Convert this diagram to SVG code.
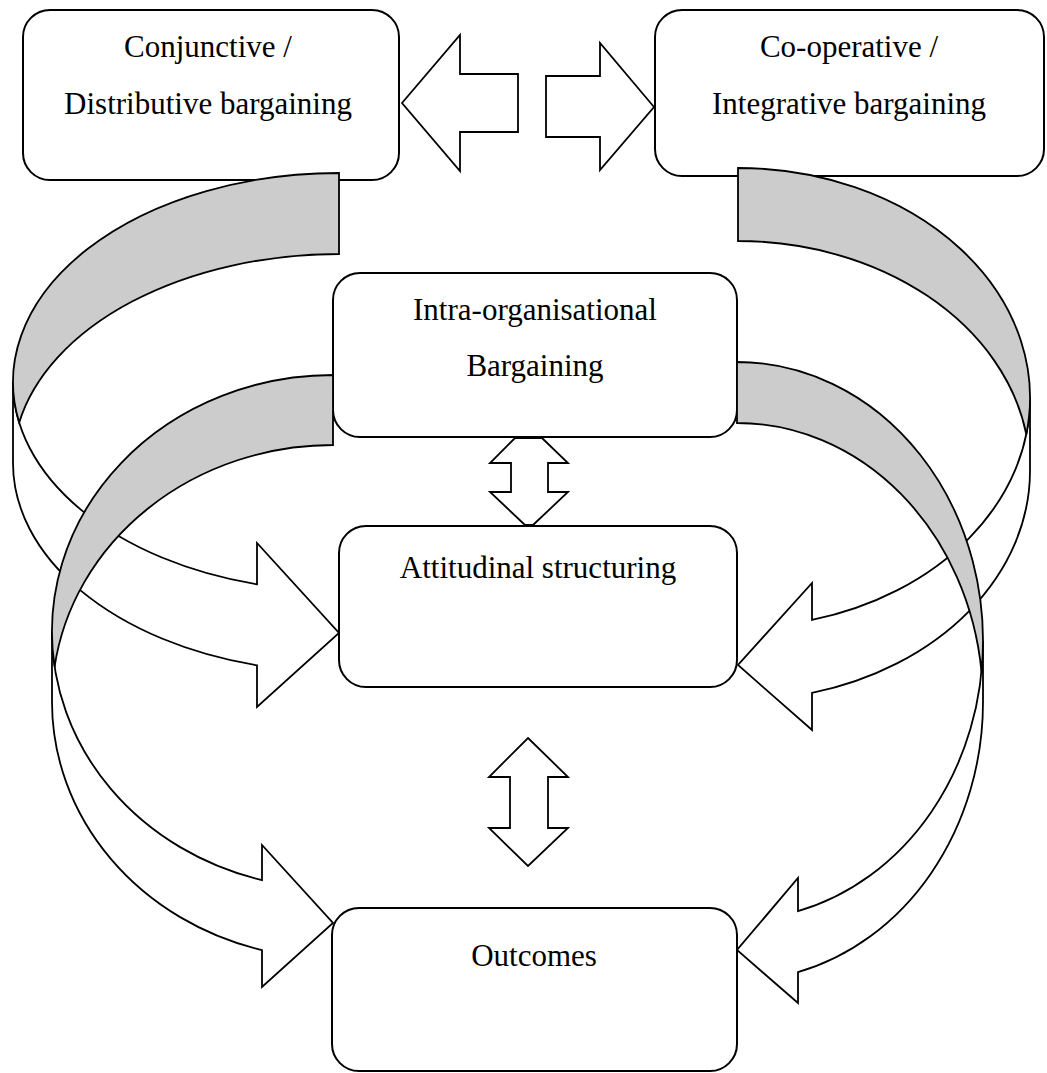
<svg xmlns="http://www.w3.org/2000/svg" width="1047" height="1073" viewBox="0 0 1047 1073">
<style>
.box{fill:#fff;stroke:#000;stroke-width:2}
.arr{fill:#fff;stroke:#000;stroke-width:1.8;stroke-linejoin:miter}
.back{fill:#cccccc;stroke:#000;stroke-width:1.8}
.t{font-family:"Liberation Serif","Times New Roman",serif;font-size:31px;fill:#000;text-anchor:middle}
</style>
<rect width="1047" height="1073" fill="#fff"/>
<g id="connectors">
  <polygon class="arr" points="402,103 460,35 460,74 518,74 518,132 460,132 460,171"/>
  <polygon class="arr" points="654,107 600,43 600,76 546,76 546,137 600,137 600,170"/>
  <polygon class="arr" points="515,438 542,438 568,463 548,463 548,492 568,492 533,525 525,525 490,492 511,492 511,463 490,463"/>
  <polygon class="arr" points="528,738 568,777 548,777 548,828 568,828 528,866 489,828 510,828 510,777 489,777"/>
</g>
<g id="node-conjunctive">
  <rect class="box" x="23" y="10" width="376" height="170" rx="27" ry="27"/>
  <text class="t" x="208" y="57">Conjunctive /</text>
  <text class="t" x="208" y="114">Distributive bargaining</text>
</g>
<g id="node-cooperative">
  <rect class="box" x="655" y="10" width="389" height="166" rx="27" ry="27"/>
  <text class="t" x="849" y="57">Co-operative /</text>
  <text class="t" x="849" y="114">Integrative bargaining</text>
</g>
<g id="node-intra">
  <rect class="box" x="333" y="273" width="404" height="164" rx="27" ry="27"/>
  <text class="t" x="535" y="320">Intra-organisational</text>
  <text class="t" x="535" y="376">Bargaining</text>
</g>
<g id="node-attitudinal">
  <rect class="box" x="339" y="526" width="398" height="161" rx="27" ry="27"/>
  <text class="t" x="538" y="578">Attitudinal structuring</text>
</g>
<g id="node-outcomes">
  <rect class="box" x="332" y="908" width="405" height="163" rx="27" ry="27"/>
  <text class="t" x="534" y="966">Outcomes</text>
</g>
<g id="curved-connectors">
  <g id="arrow-conj-att">
    <path class="arr" d="M 13 382 A 326 209 0 0 0 257 584.3 L 257 543 L 339 633 L 257 707 L 257 665.3 A 326 209 0 0 1 13 463 Z"/>
    <path class="back" d="M 339 254 A 326 209 0 0 0 19.2 422.5 A 326 209 0 0 1 339 173 Z"/>
  </g>
  <g id="arrow-coop-att">
    <path class="arr" d="M 1030 397.7 A 292 229.7 0 0 1 812 619.9 L 812 583 L 738 665 L 812 730 L 812 692.9 A 292 229.7 0 0 0 1030 470.7 Z"/>
    <path class="back" d="M 738 241 A 292 229.7 0 0 1 1026.3 434.2 A 292 229.7 0 0 0 738 168 Z"/>
  </g>
  <g id="arrow-intra-out-left">
    <path class="arr" d="M 52 631.7 A 281 256.7 0 0 0 262 880.1 L 262 845 L 333 923 L 262 987 L 262 950.1 A 281 256.7 0 0 1 52 701.7 Z"/>
    <path class="back" d="M 333 445 A 281 256.7 0 0 0 54.6 666.7 A 281 256.7 0 0 1 333 375 Z"/>
  </g>
  <g id="arrow-intra-out-right">
    <path class="arr" d="M 983 640.9 A 246 278.9 0 0 1 798 911.1 L 798 878 L 737 950 L 798 1003 L 798 972.1 A 246 278.9 0 0 0 983 701.9 Z"/>
    <path class="back" d="M 737 423 A 246 278.9 0 0 1 981.5 671.4 A 246 278.9 0 0 0 737 362 Z"/>
  </g>
</g>
</svg>
